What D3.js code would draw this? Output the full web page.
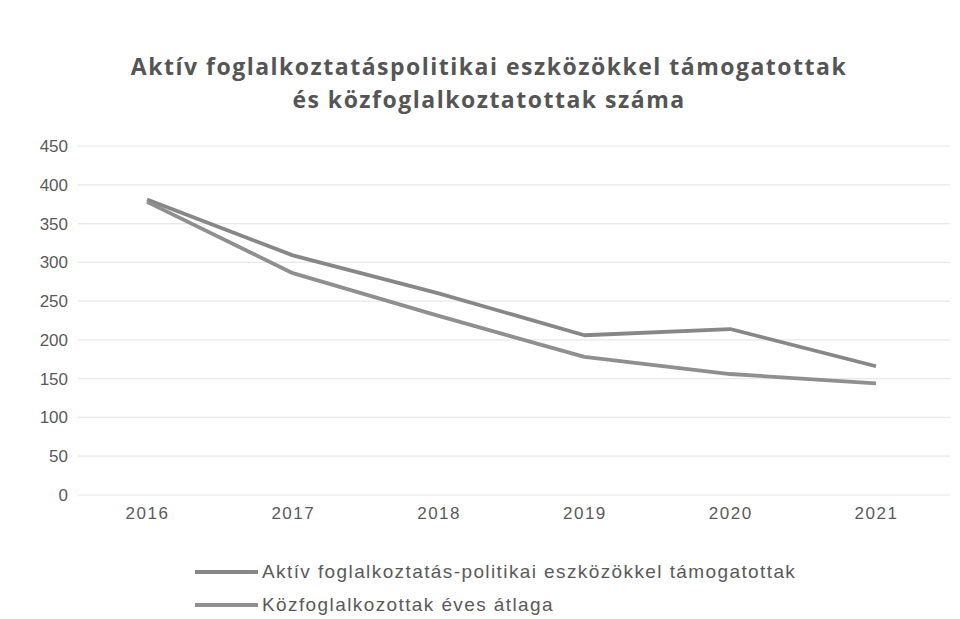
<!DOCTYPE html>
<html><head><meta charset="utf-8">
<script src="https://cdn.jsdelivr.net/npm/d3@7"></script>
<style>body{margin:0;background:#fff;}svg{display:block;}</style>
</head><body>
<script>
const years = ["2016","2017","2018","2019","2020","2021"];
const aktiv = [381, 309, 260, 206, 214, 166];
const kozfog = [378, 286, 231, 178, 156, 144];
const yTicks = [0,50,100,150,200,250,300,350,400,450];
const seriesNames = ["Aktív foglalkoztatás-politikai eszközökkel támogatottak","Közfoglalkozottak éves átlaga"];
const titleLines = ["Aktív foglalkoztatáspolitikai eszközökkel támogatottak","és közfoglalkoztatottak száma"];

const W=960,H=619;
const svg=d3.select("body").append("svg").attr("width",W).attr("height",H);
svg.append("rect").attr("width",W).attr("height",H).attr("fill","#fff");

const x=d3.scalePoint().domain(years).range([147,876]);
const y=d3.scaleLinear().domain([0,450]).range([495,146]);

// gridlines
svg.append("g").selectAll("line").data(yTicks).join("line")
  .attr("x1",78).attr("x2",950).attr("y1",d=>y(d)).attr("y2",d=>y(d))
  .attr("stroke","#e8e8e8").attr("stroke-width",1.2);

const tickFont="Liberation Sans, Arial, sans-serif";
// y axis labels
const yAxis=d3.axisLeft(y).tickValues(yTicks).tickSize(0).tickPadding(0);
const gy=svg.append("g").attr("transform","translate(68,0)").call(yAxis);
gy.select(".domain").remove();
gy.selectAll("text").attr("font-family",tickFont).attr("font-size",17).attr("fill","#5a5a5a");

const xAxis=d3.axisBottom(x).tickSize(0).tickPadding(0);
const gx=svg.append("g").attr("transform","translate(0,507)").call(xAxis);
gx.select(".domain").remove();
gx.selectAll("text").attr("font-family",tickFont).attr("font-size",17).attr("letter-spacing",1.5).attr("fill","#5a5a5a");

const line=d3.line().x((d,i)=>x(years[i])).y(d=>y(d));
const colors=["#878787","#8f8f8f"];
[aktiv,kozfog].forEach((s,k)=>{
  svg.append("path").attr("d",line(s)).attr("fill","none")
    .attr("stroke",colors[k]).attr("stroke-width",3.8).attr("stroke-linejoin","round");
});

// title
svg.append("g").selectAll("text").data(titleLines).join("text")
  .attr("x",489).attr("y",(d,i)=>75+i*33).attr("text-anchor","middle")
  .attr("font-family","Open Sans, sans-serif").attr("font-weight","bold").attr("font-size",23)
  .attr("letter-spacing",1.5)
  .attr("fill","#555").text(d=>d);

// legend
const lg=svg.append("g");
seriesNames.forEach((n,i)=>{
  const yy=572+i*33;
  lg.append("line").attr("x1",195).attr("x2",258).attr("y1",yy).attr("y2",yy)
    .attr("stroke",colors[i]).attr("stroke-width",3.8);
  lg.append("text").attr("x",262).attr("y",yy+6).attr("font-family",tickFont)
    .attr("font-size",19).attr("letter-spacing",1.4).attr("fill","#5a5a5a").text(n);
});
</script>
</body></html>
